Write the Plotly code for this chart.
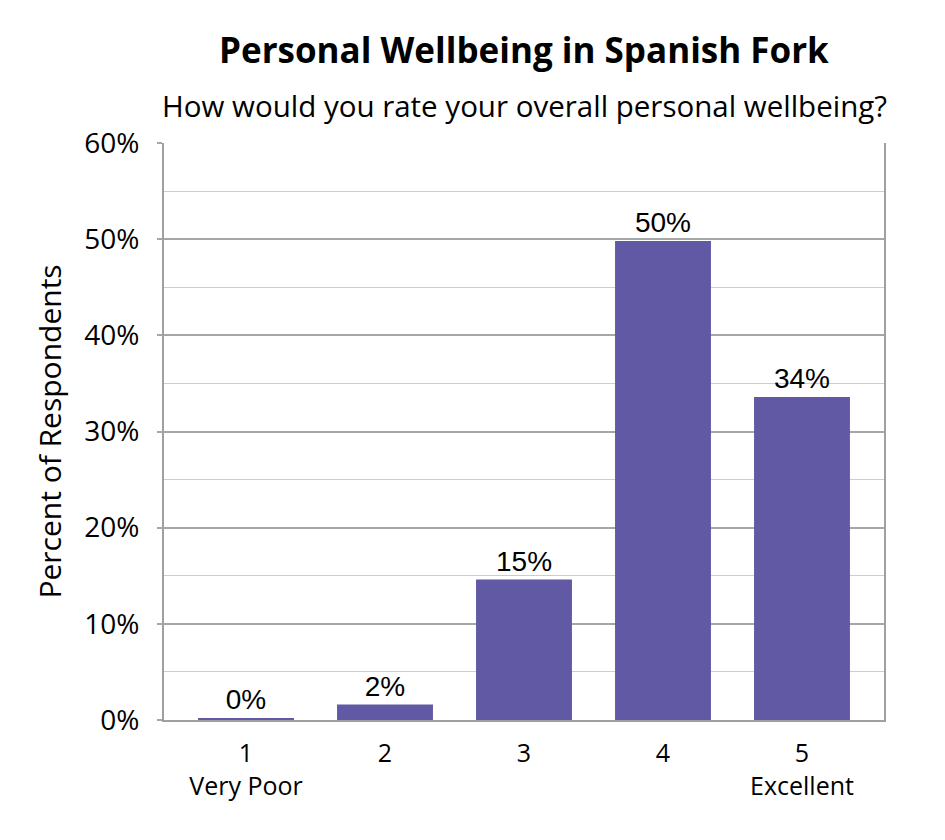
import plotly.graph_objects as go

categories = ["1", "2", "3", "4", "5"]
sub_labels = ["Very Poor", "", "", "", "Excellent"]
values = [0.2, 1.6, 14.6, 49.8, 33.6]

title = "Personal Wellbeing in Spanish Fork"
subtitle = "How would you rate your overall personal wellbeing?"
y_title = "Percent of Respondents"

FONT = "Open Sans"
BAR = "#6159A3"
AXIS = "#A0A0A0"
GRID_MAJOR = "#A6A6A6"
GRID_MINOR = "#CDCDCD"

tick_text = [c + ("<br>" + s if s else "") for c, s in zip(categories, sub_labels)]

fig = go.Figure()
fig.add_trace(go.Bar(
    x=list(range(len(categories))), y=values,
    marker=dict(color=BAR, line=dict(width=0)),
    width=0.69,
    texttemplate="%{y:.0f}%", textposition="outside",
    textfont=dict(family="Liberation Sans", size=28, color="black"),
    cliponaxis=False,
))

fig.update_layout(
    width=945, height=840,
    margin=dict(l=156, r=69, t=135, b=128),
    paper_bgcolor="white", plot_bgcolor="white",
    showlegend=False,
    font=dict(family=FONT, color="black"),
)
fig.add_annotation(x=0.5, y=1, xref="paper", yref="paper", yshift=94, yanchor="middle",
                   text="<b>" + title + "</b>", showarrow=False,
                   font=dict(family=FONT, size=35, color="black"))
fig.add_annotation(x=0.5, y=1, xref="paper", yref="paper", yshift=38, yanchor="middle",
                   text=subtitle, showarrow=False,
                   font=dict(family=FONT, size=29.5, color="black"))

fig.update_xaxes(
    tickmode="array", tickvals=list(range(len(categories))), ticktext=tick_text,
    range=[-0.59, 4.59], showgrid=False, showline=True, linecolor=AXIS, linewidth=2,
    ticks="", tickfont=dict(family=FONT, size=25, color="black"), zeroline=False,
    ticklabelstandoff=10,
)
fig.update_yaxes(
    range=[0, 60], dtick=10, ticksuffix="%", showgrid=True, gridcolor=GRID_MAJOR, gridwidth=2,
    minor=dict(dtick=5, showgrid=True, gridcolor=GRID_MINOR, gridwidth=1, ticks=""),
    showline=True, linecolor=AXIS, linewidth=2, mirror=True,
    ticks="outside", ticklen=5, tickcolor=GRID_MAJOR, tickwidth=2,
    tickfont=dict(family=FONT, size=28, color="black"), zeroline=False,
    ticklabelstandoff=12,
    title=dict(text=y_title, font=dict(family=FONT, size=30, color="black"), standoff=14),
)

fig.write_html("out.html")
